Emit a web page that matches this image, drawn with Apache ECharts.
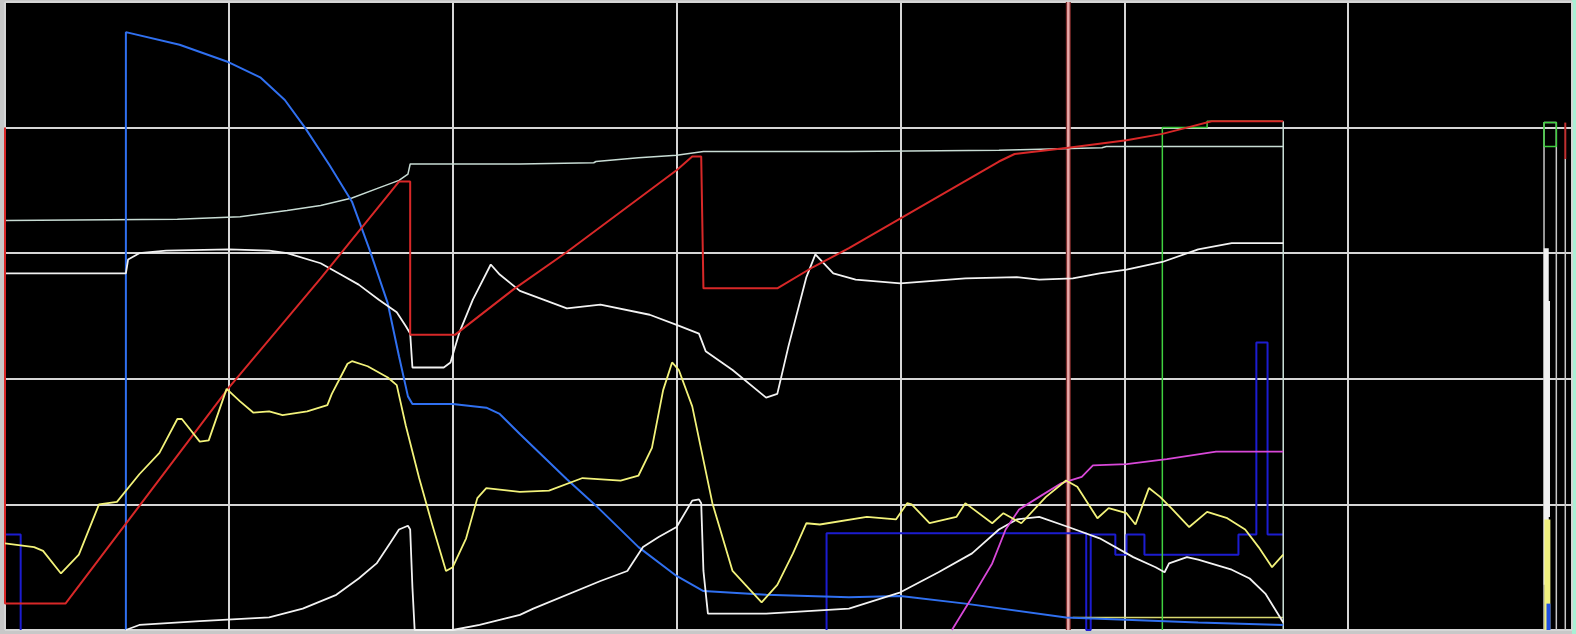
<!DOCTYPE html>
<html>
<head>
<meta charset="utf-8">
<script src="https://cdn.jsdelivr.net/npm/echarts@6/dist/echarts.min.js"></script>
<style>
  html, body { margin: 0; padding: 0; background: #c8c8c8; }
  #wrap { position: relative; width: 1576px; height: 634px; }
  #mint { position: absolute; right: 0; top: 0; width: 4px; height: 634px; background: #a8f0d4; }
  #chart { position: absolute; left: 0; top: 0; width: 1576px; height: 634px; }
</style>
</head>
<body>
<div id="wrap"><div id="mint"></div><div id="chart"></div></div>
<script>
// x: divisions (0..7), y: divisions (0..5)
const xTicks = [0, 1, 2, 3, 4, 5, 6, 7];
const yTicks = [0, 1, 2, 3, 4, 5];

const blueTrace = [[0.54,0],[0.54,4.76],[0.78,4.66],[1.0,4.52],[1.14,4.40],[1.25,4.22],[1.34,4.0],[1.45,3.70],[1.55,3.41],[1.63,3.02],[1.71,2.60],[1.76,2.18],[1.80,1.86],[1.82,1.80],[2.0,1.80],[2.15,1.77],[2.21,1.72],[2.30,1.56],[2.51,1.20],[2.64,0.99],[2.83,0.66],[3.0,0.43],[3.12,0.31],[3.40,0.28],[3.77,0.26],[4.0,0.27],[4.29,0.21],[4.74,0.10],[5.33,0.06],[5.71,0.04]];

const redTrace = [[0,4.0],[0,0.21],[0.27,0.21],[1.0,1.93],[1.41,2.80],[1.76,3.57],[1.81,3.57],[1.81,2.35],[2.01,2.35],[2.27,2.71],[2.51,3.01],[3.0,3.66],[3.07,3.77],[3.11,3.77],[3.12,2.72],[3.45,2.72],[3.61,2.89],[3.77,3.04],[4.44,3.73],[4.51,3.79],[4.75,3.84],[5.01,3.90],[5.17,3.95],[5.28,4.0],[5.39,4.05],[5.71,4.05]];

const grayTrace = [[0,3.26],[0.77,3.27],[1.05,3.29],[1.26,3.34],[1.41,3.38],[1.55,3.44],[1.67,3.52],[1.76,3.58],[1.80,3.63],[1.81,3.71],[2.30,3.71],[2.63,3.72],[2.64,3.73],[2.83,3.76],[3.0,3.78],[3.12,3.81],[3.77,3.81],[4.44,3.82],[4.90,3.84],[4.92,3.85],[5.71,3.85],[5.71,4.05],[5.71,0]];

const whiteUpper = [[0,2.84],[0.54,2.84],[0.55,2.95],[0.60,3.0],[0.72,3.02],[1.0,3.03],[1.18,3.02],[1.26,3.0],[1.41,2.92],[1.50,2.83],[1.58,2.75],[1.67,2.63],[1.75,2.53],[1.79,2.42],[1.81,2.36],[1.82,2.09],[1.96,2.09],[1.99,2.13],[2.03,2.37],[2.09,2.63],[2.17,2.91],[2.21,2.83],[2.30,2.70],[2.51,2.56],[2.66,2.59],[2.88,2.51],[3.0,2.43],[3.10,2.36],[3.13,2.22],[3.25,2.07],[3.40,1.85],[3.45,1.88],[3.50,2.26],[3.58,2.81],[3.62,2.99],[3.70,2.84],[3.80,2.79],[4.0,2.76],[4.29,2.80],[4.52,2.81],[4.62,2.79],[4.77,2.80],[4.89,2.84],[5.01,2.87],[5.17,2.93],[5.33,3.03],[5.48,3.08],[5.71,3.08]];

const yellowTrace = [[0,0.69],[0.13,0.66],[0.17,0.63],[0.25,0.45],[0.33,0.60],[0.42,1.00],[0.50,1.02],[0.60,1.24],[0.69,1.41],[0.77,1.68],[0.79,1.68],[0.87,1.50],[0.91,1.51],[0.99,1.92],[1.05,1.82],[1.11,1.73],[1.18,1.74],[1.24,1.71],[1.35,1.74],[1.44,1.79],[1.46,1.88],[1.53,2.12],[1.55,2.14],[1.62,2.10],[1.67,2.05],[1.71,2.01],[1.75,1.95],[1.79,1.63],[1.85,1.21],[1.91,0.83],[1.97,0.47],[2.0,0.50],[2.06,0.73],[2.11,1.05],[2.15,1.13],[2.30,1.10],[2.43,1.11],[2.58,1.21],[2.75,1.19],[2.83,1.23],[2.89,1.45],[2.94,1.91],[2.98,2.13],[3.01,2.07],[3.07,1.78],[3.16,1.01],[3.25,0.47],[3.38,0.22],[3.45,0.36],[3.52,0.61],[3.58,0.85],[3.64,0.84],[3.85,0.90],[3.98,0.88],[4.03,1.01],[4.05,1.0],[4.13,0.85],[4.25,0.90],[4.29,1.01],[4.41,0.85],[4.46,0.93],[4.54,0.85],[4.65,1.06],[4.74,1.19],[4.79,1.14],[4.88,0.89],[4.93,0.97],[5.01,0.93],[5.05,0.84],[5.11,1.13],[5.16,1.06],[5.21,0.97],[5.29,0.82],[5.37,0.94],[5.46,0.89],[5.54,0.80],[5.60,0.66],[5.66,0.50],[5.71,0.60]];

const whiteLower = [[0.54,0],[0.60,0.04],[0.87,0.07],[1.18,0.10],[1.33,0.17],[1.48,0.28],[1.58,0.41],[1.66,0.53],[1.72,0.69],[1.76,0.80],[1.80,0.83],[1.81,0.80],[1.82,0.34],[1.83,0],[2.0,0],[2.12,0.04],[2.30,0.12],[2.36,0.17],[2.66,0.39],[2.78,0.47],[2.85,0.66],[2.92,0.74],[3.0,0.82],[3.07,1.03],[3.10,1.04],[3.11,1.01],[3.12,0.47],[3.14,0.13],[3.40,0.13],[3.77,0.17],[4.0,0.30],[4.17,0.46],[4.32,0.61],[4.44,0.80],[4.52,0.88],[4.62,0.90],[4.75,0.82],[4.89,0.73],[5.04,0.58],[5.14,0.50],[5.18,0.46],[5.20,0.53],[5.28,0.58],[5.33,0.56],[5.48,0.48],[5.56,0.41],[5.63,0.29],[5.71,0.06]];

const magentaTrace = [[4.23,0],[4.32,0.26],[4.41,0.53],[4.47,0.80],[4.53,0.96],[4.62,1.06],[4.72,1.17],[4.81,1.22],[4.86,1.31],[5.01,1.32],[5.19,1.36],[5.41,1.42],[5.71,1.42]];

const navyLeft = [[0,0.76],[0.07,0.76],[0.07,0]];
const navyRight = [[3.67,0],[3.67,0.77],[4.83,0.77],[4.83,0],[4.85,0],[4.85,0.76],[4.96,0.76],[4.96,0.60],[5.01,0.60],[5.01,0.76],[5.09,0.76],[5.09,0.60],[5.51,0.60],[5.51,0.76],[5.59,0.76],[5.59,2.29],[5.64,2.29],[5.64,0.76],[5.71,0.76]];

const greenTrace = [[5.17,0],[5.17,4.0],[5.37,4.0],[5.37,4.05],[5.70,4.05]];
const yellowFlat = [[4.77,0.10],[5.71,0.10]];
const cursorLine = [[4.75,0],[4.75,5]];

// right-hand compressed strip
const stripFrame = [[6.875,0],[6.875,4.04],[6.93,4.04],[6.93,0]];
const stripGreen = [[6.875,3.85],[6.875,4.04],[6.93,4.04],[6.93,3.85],[6.875,3.85]];
const stripRedTop = [[6.97,4.04],[6.97,3.75]];
const stripGrayLine = [[6.97,3.75],[6.97,0]];
const stripWhite = [[6.885,3.04],[6.885,0.36]];
const stripWhite2 = [[6.895,2.62],[6.895,0.9]];
const stripYellow = [[6.89,0.88],[6.89,0]];
const stripBlue = [[6.895,0.21],[6.895,0]];

function line(data, color, width, z) {
  return { type: 'line', data: data, symbol: 'none', smooth: false, animation: false,
    lineStyle: { color: color, width: width }, z: z || 2, silent: true };
}

const chart = echarts.init(document.getElementById('chart'), null, { renderer: 'canvas' });
chart.setOption({
  backgroundColor: 'transparent',
  animation: false,
  grid: { left: 5, right: 4, top: 2, bottom: 4, show: true, backgroundColor: '#000000', borderWidth: 0 },
  xAxis: {
    type: 'value', min: xTicks[0], max: xTicks[xTicks.length - 1], interval: 1,
    axisLine: { show: false }, axisTick: { show: false }, axisLabel: { show: false },
    splitLine: { show: true, lineStyle: { color: '#d6d6d6', width: 2 } }
  },
  yAxis: {
    type: 'value', min: yTicks[0], max: yTicks[yTicks.length - 1], interval: 1,
    axisLine: { show: false }, axisTick: { show: false }, axisLabel: { show: false },
    splitLine: { show: true, lineStyle: { color: '#d6d6d6', width: 2 } }
  },
  series: [
    line(cursorLine, '#7a2a2a', 5, 1),
    line(cursorLine, '#e8a8a8', 2.5, 1),
    line(navyLeft, '#1c1cd0', 2),
    line(navyRight, '#1c1cd0', 2),
    line(yellowFlat, '#d8d870', 1.5),
    line(grayTrace, '#c8dcd4', 1.5),
    line(greenTrace, '#40d040', 1.5),
    line(blueTrace, '#3070f0', 2),
    line(whiteLower, '#f2f2f2', 1.8),
    line(whiteUpper, '#f2f2f2', 1.8),
    line(magentaTrace, '#d848d8', 1.8),
    line(redTrace, '#d82828', 2),
    line(yellowTrace, '#f2f27a', 1.8),
    line(stripFrame, '#c8c8c8', 1.5),
    line(stripGreen, '#40d040', 1.5),
    line(stripRedTop, '#c03030', 2),
    line(stripGrayLine, '#c8c8c8', 1.5),
    line(stripWhite, '#f0f0f0', 5),
    line(stripWhite2, '#f0f0f0', 3),
    line(stripYellow, '#f0f080', 6),
    line(stripBlue, '#2050e0', 4)
  ]
});
</script>
</body>
</html>
